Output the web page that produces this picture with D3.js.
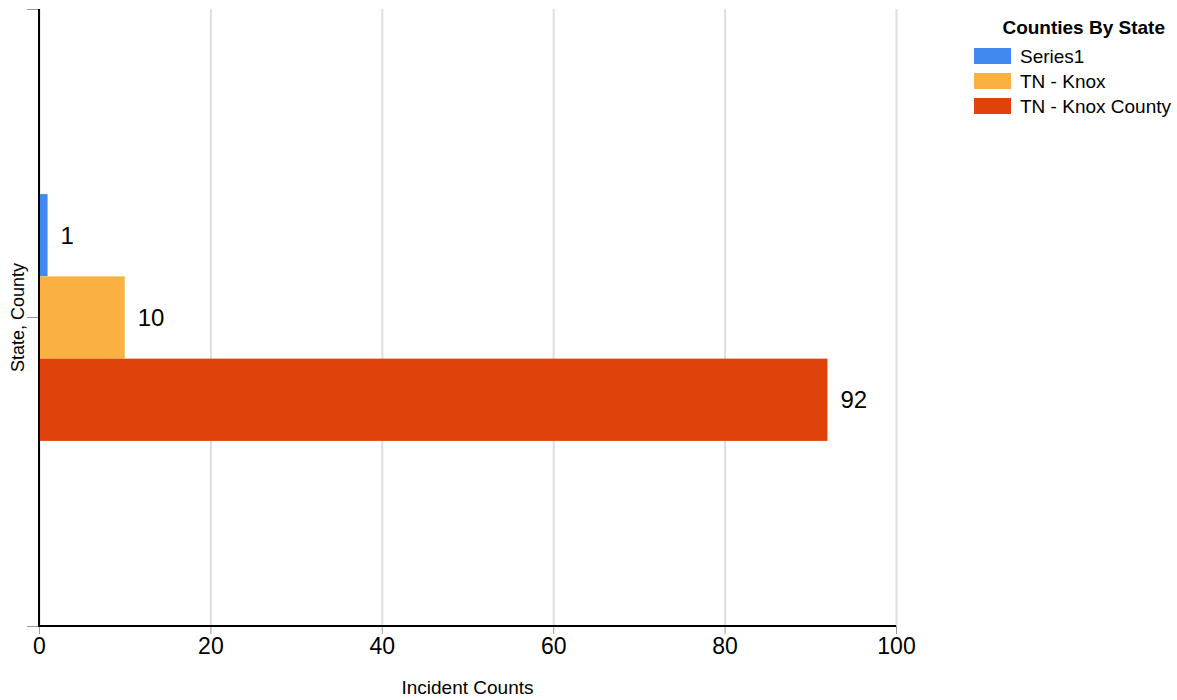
<!doctype html>
<html>
<head>
<script src="https://d3js.org/d3.v7.min.js"></script>
<style>
  body { margin: 0; background: #fff; }
  text { font-family: "Liberation Sans", Arial, sans-serif; fill: #000; }
  .tick line { stroke: #999; }
  .grid .tick line { stroke: #dedede; stroke-width: 2; }
  .grid path { stroke-width: 0; }
</style>
</head>
<body>
<svg id="chart" width="1177" height="700"></svg>
<script>
  // data
  const categories = [""];
  const seriesNames = ["Series1", "TN - Knox", "TN - Knox County"];
  const seriesValues = [1, 10, 92];
  const seriesColors = ["#4189ef", "#fbb142", "#e0420b"];
  const xTicks = [0, 20, 40, 60, 80, 100];

  const svg = d3.select("#chart");
  const plotLeft = 39, plotRight = 896, plotTop = 9, plotBottom = 626;

  const xScale = d3.scaleLinear().domain([0, 100]).range([plotLeft, plotRight]);
  const yScale = d3.scaleBand().domain(categories).range([plotTop, plotBottom]);
  const ySub = d3.scaleBand()
    .domain(seriesNames)
    .range([yScale.bandwidth() * 0.3, yScale.bandwidth() * 0.7]);

  // vertical grid
  svg.append("g")
    .attr("class", "grid")
    .attr("transform", `translate(0, ${plotBottom})`)
    .call(d3.axisBottom(xScale).tickValues(xTicks).tickSize(-(plotBottom - plotTop)).tickFormat(""));

  // bars
  const groups = svg.selectAll(".cat")
    .data(categories)
    .enter()
    .append("g")
    .attr("transform", d => `translate(0, ${yScale(d)})`);

  const rows = seriesNames.map((n, i) => ({ name: n, value: seriesValues[i], color: seriesColors[i] }));

  groups.selectAll("rect")
    .data(rows)
    .enter()
    .append("rect")
    .attr("x", xScale(0))
    .attr("y", d => ySub(d.name))
    .attr("width", d => xScale(d.value) - xScale(0))
    .attr("height", ySub.bandwidth())
    .attr("fill", d => d.color);

  groups.selectAll("text.value")
    .data(rows)
    .enter()
    .append("text")
    .attr("class", "value")
    .attr("x", d => xScale(d.value) + 13)
    .attr("y", d => ySub(d.name) + ySub.bandwidth() / 2)
    .attr("dy", "0.35em")
    .style("font-size", "24px")
    .text(d => d.value);

  // x axis
  const xAxis = svg.append("g")
    .attr("transform", `translate(0, ${plotBottom})`)
    .call(d3.axisBottom(xScale).tickValues(xTicks).tickSize(8).tickSizeOuter(0).tickPadding(4));
  xAxis.select(".domain").remove();
  xAxis.selectAll("text").style("font-size", "23px").attr("fill", "#000");

  // y axis
  const yAxis = svg.append("g")
    .attr("transform", `translate(${plotLeft}, 0)`)
    .call(d3.axisLeft(yScale).tickSize(12).tickSizeOuter(12).tickFormat(""));
  yAxis.select(".domain").attr("stroke", "#999");

  svg.append("line")
    .attr("x1", plotLeft).attr("x2", plotRight)
    .attr("y1", plotBottom).attr("y2", plotBottom)
    .attr("stroke", "#000").attr("stroke-width", 2);
  svg.append("line")
    .attr("x1", plotLeft).attr("x2", plotLeft)
    .attr("y1", plotTop).attr("y2", plotBottom + 1)
    .attr("stroke", "#000").attr("stroke-width", 2);

  // axis titles
  svg.append("text")
    .attr("x", (plotLeft + plotRight) / 2)
    .attr("y", 694)
    .attr("text-anchor", "middle")
    .style("font-size", "19px")
    .text("Incident Counts");

  svg.append("text")
    .attr("transform", `translate(24, ${(plotTop + plotBottom) / 2}) rotate(-90)`)
    .attr("text-anchor", "middle")
    .style("font-size", "18px")
    .text("State, County");

  // legend
  const legend = svg.append("g").attr("transform", "translate(974, 0)");
  legend.append("text")
    .attr("x", 191)
    .attr("y", 34)
    .attr("text-anchor", "end")
    .style("font-size", "19px")
    .style("font-weight", "bold")
    .text("Counties By State");

  const items = legend.selectAll(".item")
    .data(rows)
    .enter()
    .append("g")
    .attr("transform", (d, i) => `translate(0, ${48 + i * 25})`);
  items.append("rect")
    .attr("width", 37)
    .attr("height", 16)
    .attr("fill", d => d.color);
  items.append("text")
    .attr("x", 46)
    .attr("y", 8)
    .attr("dy", "0.35em")
    .style("font-size", "19px")
    .text(d => d.name);
</script>
</body>
</html>
